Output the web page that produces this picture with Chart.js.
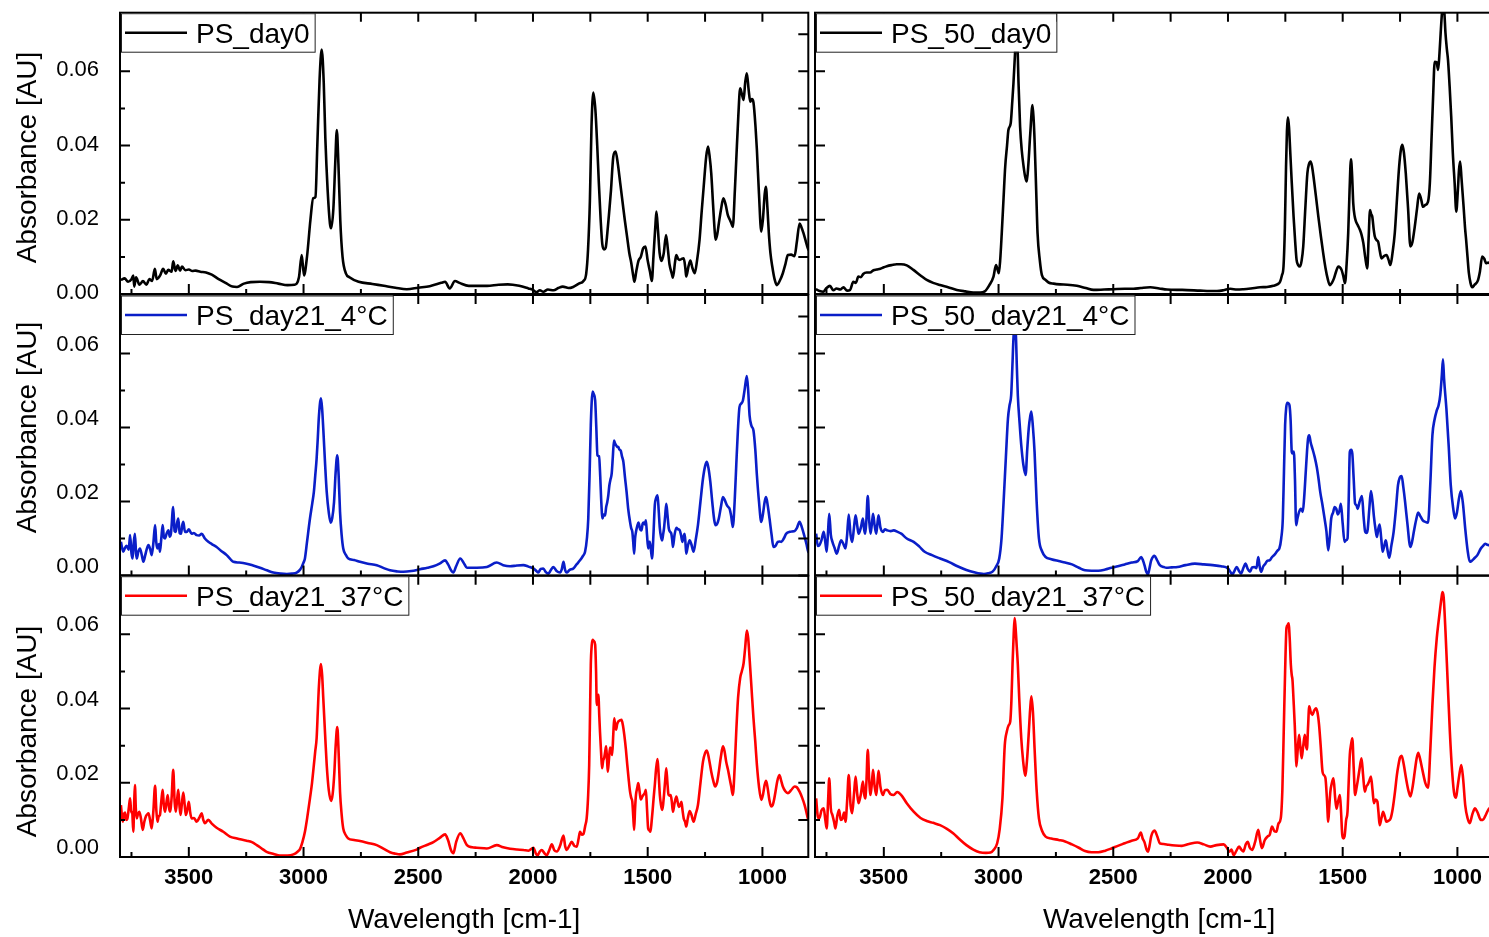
<!DOCTYPE html>
<html><head><meta charset="utf-8">
<script src="https://cdn.jsdelivr.net/npm/chart.js@4.4.1/dist/chart.umd.min.js"></script>
<style>
html,body{margin:0;padding:0;background:#fff;overflow:hidden;}
#wrap{position:relative;width:1489px;height:937px;overflow:hidden;background:#fff;}
#wrap canvas{position:absolute;left:0;top:-40px;}
</style></head><body>
<div id="wrap">
<canvas id="c0" width="1560" height="977"></canvas>
<canvas id="c1" width="1560" height="977"></canvas>
<canvas id="c2" width="1560" height="977"></canvas>
<canvas id="c3" width="1560" height="977"></canvas>
<canvas id="c4" width="1560" height="977"></canvas>
<canvas id="c5" width="1560" height="977"></canvas>
</div>
<script>
// ---- tick labels ----
const xTickLabels = [3500, 3000, 2500, 2000, 1500, 1000];
const yTickLabels = [0, 0.02, 0.04, 0.06];
const xMinorTicks = [3750, 3250, 2750, 2250, 1750, 1250];
const yMinorTicks = [0.01, 0.03, 0.05, 0.07];

// ---- series: [wavenumber, absorbance] ----
const psDay0 = [[3796,.0038],[3780,.0042],[3765,.0033],[3750,.0040],[3742,.0050],[3738,.0020],[3730,.0045],[3715,.0025],[3700,.0035],[3685,.0025],[3672,.0040],[3660,.0035],[3648,.0068],[3640,.0040],[3625,.0050],[3612,.0068],[3600,.0055],[3590,.0065],[3575,.0060],[3568,.0088],[3558,.0062],[3548,.0077],[3538,.0063],[3530,.0074],[3515,.0064],[3500,.0066],[3485,.0062],[3470,.0063],[3450,.0060],[3425,.0058],[3400,.0052],[3370,.0040],[3340,.0030],[3310,.0020],[3290,.0019],[3260,.0028],[3230,.0032],[3190,.0033],[3150,.0032],[3110,.0028],[3070,.0024],[3040,.0025],[3020,.0045],[3008,.0105],[2998,.0050],[2985,.0100],[2970,.0200],[2958,.0258],[2948,.0262],[2940,.0400],[2930,.0580],[2921,.0659],[2912,.0570],[2905,.0420],[2895,.0280],[2885,.0190],[2880,.0177],[2870,.0230],[2862,.0350],[2855,.0442],[2848,.0350],[2840,.0200],[2830,.0100],[2815,.0055],[2800,.0045],[2760,.0033],[2700,.0027],[2650,.0022],[2600,.0017],[2550,.0013],[2500,.0017],[2450,.0021],[2400,.0030],[2383,.0033],[2363,.0015],[2340,.0035],[2320,.0030],[2280,.0022],[2200,.0022],[2150,.0025],[2110,.0026],[2060,.0022],[2020,.0015],[2000,.0011],[1985,.0005],[1970,.0010],[1955,.0006],[1935,.0012],[1910,.0010],[1890,.0016],[1870,.0020],[1845,.0016],[1825,.0019],[1800,.0028],[1780,.0035],[1768,.0055],[1760,.0120],[1752,.0250],[1745,.0450],[1737,.0543],[1728,.0496],[1720,.0400],[1713,.0300],[1705,.0200],[1698,.0135],[1690,.0120],[1683,.0125],[1676,.0164],[1668,.0220],[1660,.0280],[1650,.0370],[1640,.0384],[1630,.0350],[1620,.0300],[1610,.0250],[1600,.0200],[1590,.0155],[1580,.0110],[1572,.0085],[1562,.0045],[1558,.0033],[1550,.0060],[1540,.0090],[1530,.0100],[1520,.0123],[1510,.0128],[1500,.0090],[1490,.0060],[1482,.0035],[1475,.0100],[1466,.0190],[1462,.0222],[1455,.0170],[1448,.0110],[1440,.0089],[1430,.0110],[1420,.0159],[1412,.0120],[1405,.0080],[1395,.0055],[1390,.0044],[1380,.0090],[1375,.0105],[1368,.0095],[1360,.0092],[1350,.0095],[1343,.0096],[1336,.0070],[1332,.0047],[1322,.0075],[1314,.0090],[1305,.0070],[1295,.0056],[1285,.0090],[1274,.0146],[1265,.0220],[1256,.0289],[1245,.0370],[1237,.0397],[1230,.0370],[1223,.0325],[1215,.0240],[1208,.0170],[1204,.0146],[1197,.0160],[1190,.0190],[1180,.0230],[1170,.0258],[1160,.0240],[1151,.0213],[1142,.0200],[1135,.0190],[1129,.0181],[1120,.0280],[1114,.0361],[1105,.0480],[1097,.0554],[1090,.0540],[1082,.0523],[1075,.0570],[1068,.0595],[1060,.0550],[1053,.0518],[1046,.0525],[1039,.0516],[1030,.0450],[1024,.0388],[1015,.0270],[1005,.0168],[998,.0200],[990,.0270],[985,.0289],[978,.0230],[972,.0164],[965,.0110],[957,.0074],[947,.0040],[937,.0024],[925,.0035],[911,.0056],[900,.0080],[889,.0105],[875,.0106],[860,.0102],[850,.0140],[838,.0190],[830,.0180],[821,.0164],[810,.0140],[802,.0123],[798,.0118]];

const ps50Day0 = [[3796,.0013],[3780,.0008],[3764,.0006],[3750,.0016],[3735,.0022],[3720,.0010],[3706,.0015],[3690,.0012],[3676,.0018],[3660,.0009],[3647,.0011],[3633,.0033],[3622,.0030],[3611,.0047],[3600,.0045],[3590,.0054],[3575,.0058],[3560,.0058],[3545,.0064],[3531,.0066],[3515,.0068],[3500,.0072],[3487,.0075],[3465,.0078],[3444,.0080],[3425,.0080],[3400,.0077],[3371,.0065],[3340,.0050],[3313,.0038],[3285,.0030],[3255,.0024],[3220,.0018],[3182,.0011],[3145,.0007],[3110,.0004],[3080,.0004],[3060,.0007],[3040,.0024],[3022,.0047],[3011,.0078],[3004,.0065],[2999,.0056],[2993,.0090],[2986,.0164],[2978,.0260],[2971,.0343],[2963,.0400],[2957,.0442],[2947,.0460],[2940,.0520],[2935,.0568],[2928,.0650],[2923,.0700],[2917,.0660],[2913,.0570],[2906,.0450],[2899,.0388],[2890,.0340],[2884,.0316],[2877,.0303],[2870,.0350],[2862,.0430],[2852,.0509],[2847,.0470],[2843,.0415],[2836,.0280],[2830,.0164],[2820,.0090],[2811,.0051],[2795,.0038],[2782,.0031],[2760,.0028],[2732,.0026],[2700,.0025],[2659,.0022],[2620,.0016],[2586,.0011],[2540,.0012],[2499,.0013],[2450,.0014],[2412,.0014],[2380,.0016],[2339,.0018],[2300,.0015],[2266,.0012],[2200,.0011],[2121,.0009],[2080,.0008],[2048,.0008],[2020,.0010],[1990,.0014],[1960,.0012],[1932,.0013],[1900,.0015],[1860,.0018],[1830,.0019],[1802,.0022],[1785,.0026],[1773,.0033],[1765,.0050],[1758,.0074],[1752,.0180],[1747,.0343],[1743,.0440],[1739,.0476],[1734,.0450],[1729,.0388],[1722,.0300],[1714,.0208],[1707,.0140],[1701,.0092],[1694,.0078],[1686,.0074],[1679,.0090],[1672,.0128],[1663,.0230],[1654,.0325],[1647,.0350],[1640,.0357],[1634,.0345],[1628,.0320],[1617,.0265],[1606,.0208],[1595,.0155],[1585,.0110],[1575,.0070],[1565,.0040],[1556,.0024],[1547,.0030],[1538,.0042],[1528,.0062],[1519,.0074],[1512,.0072],[1505,.0065],[1498,.0050],[1490,.0029],[1483,.0080],[1476,.0164],[1470,.0280],[1464,.0363],[1459,.0320],[1454,.0244],[1448,.0210],[1442,.0195],[1434,.0185],[1425,.0173],[1418,.0160],[1410,.0137],[1402,.0100],[1393,.0069],[1387,.0150],[1381,.0226],[1376,.0215],[1371,.0208],[1365,.0175],[1360,.0155],[1352,.0145],[1345,.0140],[1338,.0115],[1331,.0096],[1320,.0102],[1309,.0105],[1300,.0092],[1292,.0078],[1283,.0110],[1273,.0164],[1263,.0260],[1254,.0343],[1246,.0390],[1240,.0402],[1233,.0380],[1225,.0325],[1215,.0230],[1205,.0128],[1196,.0140],[1186,.0181],[1176,.0230],[1167,.0271],[1158,.0255],[1150,.0235],[1140,.0240],[1128,.0249],[1120,.0300],[1113,.0415],[1106,.0530],[1099,.0626],[1091,.0625],[1084,.0604],[1078,.0650],[1073,.0703],[1067,.0760],[1062,.0790],[1057,.0760],[1052,.0703],[1046,.0660],[1041,.0631],[1034,.0560],[1027,.0478],[1020,.0380],[1012,.0298],[1005,.0222],[998,.0280],[993,.0335],[988,.0357],[982,.0310],[973,.0235],[967,.0180],[962,.0146],[956,.0100],[950,.0056],[943,.0030],[936,.0018],[925,.0025],[911,.0036],[902,.0060],[892,.0101],[883,.0095],[875,.0083],[865,.0085],[855,.0080]];

const psDay21_4C = [[3796,.0091],[3786,.0064],[3778,.0075],[3771,.0080],[3762,.0070],[3756,.0109],[3750,.0060],[3745,.0046],[3740,.0090],[3735,.0113],[3730,.0060],[3727,.0046],[3720,.0065],[3713,.0073],[3705,.0055],[3698,.0037],[3690,.0055],[3684,.0070],[3676,.0082],[3668,.0070],[3662,.0055],[3655,.0085],[3647,.0136],[3642,.0090],[3637,.0073],[3630,.0085],[3626,.0064],[3620,.0100],[3614,.0136],[3609,.0105],[3604,.0100],[3596,.0115],[3589,.0122],[3583,.0105],[3578,.0113],[3568,.0185],[3562,.0120],[3557,.0118],[3552,.0140],[3546,.0154],[3540,.0115],[3534,.0113],[3529,.0135],[3524,.0145],[3517,.0118],[3509,.0118],[3500,.0125],[3488,.0113],[3478,.0115],[3466,.0109],[3455,.0108],[3444,.0113],[3430,.0100],[3415,.0091],[3400,.0085],[3379,.0077],[3360,.0067],[3335,.0055],[3320,.0045],[3306,.0037],[3280,.0035],[3248,.0032],[3220,.0027],[3190,.0021],[3160,.0014],[3132,.0008],[3100,.0005],[3073,.0004],[3050,.0005],[3030,.0008],[3015,.0016],[3008,.0023],[3000,.0035],[2994,.0046],[2985,.0090],[2972,.0154],[2962,.0195],[2955,.0226],[2949,.0270],[2943,.0316],[2938,.0370],[2933,.0430],[2924,.0479],[2919,.0450],[2914,.0397],[2906,.0300],[2899,.0226],[2890,.0170],[2882,.0143],[2875,.0155],[2867,.0199],[2860,.0280],[2853,.0325],[2847,.0270],[2841,.0172],[2834,.0110],[2827,.0073],[2815,.0055],[2805,.0046],[2780,.0042],[2754,.0037],[2720,.0032],[2681,.0028],[2650,.0020],[2623,.0014],[2590,.0011],[2565,.0010],[2530,.0012],[2492,.0017],[2460,.0021],[2434,.0025],[2405,.0033],[2383,.0041],[2370,.0030],[2355,.0012],[2347,.0008],[2335,.0025],[2317,.0046],[2300,.0032],[2288,.0021],[2245,.0021],[2201,.0023],[2158,.0035],[2130,.0028],[2100,.0025],[2070,.0027],[2042,.0028],[2020,.0024],[1998,.0019],[1985,.0012],[1977,.0008],[1966,.0018],[1955,.0019],[1945,.0010],[1933,.0005],[1922,.0015],[1911,.0023],[1897,.0012],[1882,.0008],[1874,.0018],[1867,.0037],[1860,.0015],[1853,.0008],[1840,.0015],[1824,.0019],[1810,.0030],[1795,.0041],[1783,.0052],[1773,.0064],[1765,.0100],[1759,.0154],[1753,.0280],[1748,.0406],[1744,.0470],[1740,.0497],[1735,.0490],[1729,.0473],[1724,.0400],[1719,.0325],[1712,.0322],[1707,.0270],[1703,.0208],[1697,.0154],[1692,.0165],[1686,.0162],[1681,.0185],[1676,.0199],[1672,.0215],[1667,.0244],[1662,.0260],[1657,.0275],[1652,.0320],[1647,.0365],[1643,.0358],[1638,.0352],[1633,.0348],[1628,.0347],[1623,.0340],[1618,.0338],[1612,.0322],[1606,.0307],[1599,.0265],[1592,.0226],[1585,.0180],[1577,.0145],[1572,.0128],[1567,.0118],[1563,.0090],[1559,.0059],[1555,.0100],[1551,.0118],[1545,.0135],[1540,.0143],[1533,.0125],[1527,.0122],[1522,.0140],[1517,.0143],[1512,.0138],[1508,.0149],[1503,.0110],[1498,.0073],[1494,.0090],[1491,.0091],[1486,.0070],[1481,.0046],[1475,.0110],[1469,.0190],[1463,.0210],[1457,.0217],[1452,.0175],[1447,.0127],[1442,.0105],[1437,.0095],[1433,.0110],[1429,.0127],[1424,.0160],[1419,.0194],[1414,.0165],[1408,.0127],[1402,.0118],[1397,.0113],[1393,.0095],[1390,.0077],[1383,.0110],[1375,.0129],[1368,.0125],[1361,.0123],[1355,.0110],[1349,.0091],[1344,.0105],[1339,.0113],[1335,.0085],[1332,.0059],[1325,.0080],[1317,.0095],[1310,.0085],[1300,.0064],[1291,.0095],[1281,.0136],[1270,.0200],[1259,.0262],[1250,.0295],[1242,.0307],[1235,.0290],[1227,.0253],[1218,.0195],[1210,.0150],[1204,.0136],[1197,.0140],[1190,.0154],[1181,.0185],[1172,.0212],[1165,.0205],[1155,.0190],[1149,.0185],[1143,.0180],[1136,.0160],[1129,.0131],[1121,.0200],[1114,.0298],[1107,.0390],[1100,.0455],[1092,.0465],[1085,.0473],[1078,.0500],[1068,.0539],[1062,.0500],[1056,.0433],[1048,.0405],[1039,.0392],[1031,.0340],[1024,.0271],[1015,.0200],[1005,.0145],[998,.0165],[990,.0200],[984,.0212],[977,.0190],[969,.0154],[960,.0110],[952,.0077],[943,.0080],[933,.0091],[925,.0092],[918,.0091],[907,.0100],[896,.0113],[880,.0118],[870,.0119],[860,.0120],[850,.0128],[838,.0145],[828,.0130],[816,.0104],[808,.0085],[802,.0068],[798,.0062]];

const ps50Day21_4C = [[3795,.0113],[3788,.0080],[3781,.0082],[3772,.0095],[3762,.0118],[3755,.0090],[3749,.0064],[3743,.0120],[3738,.0167],[3731,.0110],[3724,.0091],[3715,.0075],[3705,.0059],[3695,.0080],[3686,.0095],[3676,.0085],[3667,.0073],[3660,.0110],[3653,.0165],[3645,.0110],[3638,.0091],[3630,.0130],[3623,.0163],[3616,.0135],[3610,.0113],[3600,.0130],[3591,.0154],[3586,.0125],[3581,.0113],[3576,.0150],[3570,.0215],[3564,.0150],[3558,.0113],[3552,.0140],[3547,.0167],[3540,.0135],[3533,.0113],[3528,.0140],[3523,.0163],[3515,.0130],[3504,.0118],[3495,.0125],[3485,.0122],[3470,.0120],[3457,.0122],[3440,.0118],[3424,.0113],[3400,.0100],[3370,.0091],[3345,.0078],[3322,.0064],[3290,.0055],[3255,.0046],[3215,.0036],[3179,.0025],[3140,.0015],[3102,.0008],[3080,.0005],[3064,.0004],[3045,.0006],[3025,.0011],[3010,.0025],[2997,.0046],[2987,.0100],[2978,.0199],[2968,.0320],[2959,.0424],[2952,.0460],[2945,.0487],[2940,.0560],[2935,.0640],[2930,.0680],[2925,.0660],[2920,.0560],[2916,.0487],[2908,.0410],[2901,.0352],[2892,.0300],[2882,.0272],[2875,.0340],[2868,.0400],[2862,.0430],[2857,.0443],[2850,.0400],[2843,.0334],[2834,.0200],[2824,.0100],[2810,.0065],[2795,.0050],[2770,.0044],[2738,.0039],[2710,.0035],[2680,.0030],[2650,.0021],[2623,.0014],[2595,.0013],[2565,.0013],[2535,.0016],[2508,.0021],[2480,.0025],[2450,.0030],[2420,.0035],[2393,.0039],[2378,.0050],[2370,.0040],[2364,.0028],[2356,.0010],[2349,.0003],[2342,.0020],[2335,.0040],[2320,.0053],[2308,.0040],[2297,.0028],[2280,.0023],[2268,.0021],[2245,.0022],[2220,.0023],[2185,.0028],[2144,.0032],[2105,.0030],[2067,.0028],[2030,.0025],[2000,.0019],[1990,.0010],[1981,.0003],[1972,.0012],[1962,.0023],[1952,.0012],[1943,.0005],[1933,.0020],[1924,.0032],[1914,.0018],[1904,.0010],[1895,.0022],[1885,.0023],[1876,.0020],[1868,.0050],[1862,.0025],[1856,.0010],[1846,.0025],[1837,.0032],[1828,.0040],[1818,.0041],[1808,.0050],[1799,.0055],[1790,.0062],[1783,.0068],[1776,.0073],[1768,.0100],[1761,.0154],[1756,.0280],[1751,.0406],[1746,.0455],[1741,.0467],[1736,.0465],[1732,.0460],[1727,.0420],[1722,.0334],[1718,.0330],[1713,.0335],[1708,.0260],[1703,.0136],[1697,.0155],[1690,.0172],[1682,.0180],[1674,.0172],[1668,.0210],[1661,.0280],[1655,.0340],[1651,.0370],[1646,.0379],[1639,.0358],[1632,.0343],[1622,.0320],[1613,.0293],[1605,.0260],[1598,.0226],[1588,.0190],[1579,.0154],[1571,.0120],[1563,.0068],[1557,.0100],[1550,.0154],[1542,.0170],[1535,.0185],[1528,.0180],[1521,.0165],[1514,.0175],[1508,.0194],[1500,.0140],[1492,.0091],[1486,.0095],[1479,.0100],[1474,.0200],[1469,.0334],[1463,.0340],[1458,.0329],[1452,.0260],[1446,.0194],[1440,.0190],[1435,.0180],[1426,.0200],[1416,.0215],[1409,.0160],[1402,.0118],[1396,.0115],[1391,.0125],[1384,.0180],[1377,.0228],[1370,.0200],[1364,.0160],[1357,.0125],[1351,.0104],[1345,.0125],[1339,.0138],[1332,.0100],[1326,.0064],[1319,.0080],[1312,.0095],[1305,.0070],[1297,.0048],[1288,.0080],[1278,.0118],[1268,.0180],[1259,.0244],[1251,.0265],[1243,.0269],[1236,.0240],[1228,.0199],[1218,.0140],[1205,.0077],[1198,.0090],[1190,.0118],[1180,.0150],[1171,.0170],[1163,.0162],[1151,.0149],[1140,.0145],[1128,.0143],[1118,.0250],[1109,.0379],[1100,.0420],[1090,.0446],[1082,.0460],[1075,.0487],[1068,.0540],[1063,.0584],[1058,.0530],[1048,.0451],[1038,.0350],[1029,.0244],[1018,.0180],[1010,.0154],[1002,.0170],[994,.0205],[985,.0228],[976,.0195],[966,.0127],[956,.0070],[946,.0037],[937,.0040],[927,.0046],[913,.0055],[898,.0073],[888,.0080],[879,.0086],[870,.0083],[864,.0082],[855,.0082]];

const psDay21_37C = [[3796,.0140],[3788,.0095],[3783,.0115],[3778,.0120],[3773,.0100],[3768,.0103],[3761,.0135],[3756,.0158],[3751,.0120],[3747,.0122],[3742,.0068],[3738,.0150],[3735,.0194],[3731,.0130],[3727,.0104],[3722,.0115],[3716,.0122],[3709,.0105],[3701,.0073],[3694,.0095],[3687,.0110],[3681,.0115],[3676,.0118],[3669,.0100],[3662,.0077],[3655,.0120],[3647,.0192],[3642,.0130],[3637,.0095],[3631,.0110],[3626,.0113],[3620,.0150],[3614,.0181],[3609,.0140],[3604,.0122],[3598,.0145],[3592,.0167],[3587,.0135],[3582,.0122],[3575,.0160],[3568,.0235],[3562,.0150],[3557,.0122],[3551,.0155],[3546,.0181],[3541,.0140],[3536,.0113],[3530,.0145],[3524,.0174],[3518,.0140],[3513,.0113],[3506,.0130],[3500,.0149],[3494,.0120],[3488,.0104],[3477,.0105],[3466,.0095],[3455,.0105],[3444,.0118],[3437,.0100],[3430,.0091],[3415,.0100],[3400,.0090],[3379,.0079],[3350,.0068],[3321,.0055],[3290,.0050],[3248,.0044],[3225,.0040],[3204,.0032],[3180,.0022],[3161,.0014],[3130,.0008],[3103,.0004],[3070,.0004],[3044,.0007],[3025,.0015],[3015,.0022],[3005,.0040],[2994,.0068],[2983,.0110],[2972,.0158],[2963,.0200],[2955,.0248],[2949,.0285],[2943,.0320],[2938,.0390],[2933,.0460],[2924,.0520],[2919,.0490],[2914,.0428],[2906,.0330],[2899,.0248],[2890,.0180],[2880,.0151],[2873,.0170],[2866,.0225],[2860,.0300],[2853,.0350],[2847,.0280],[2841,.0176],[2834,.0115],[2827,.0077],[2815,.0058],[2805,.0050],[2780,.0046],[2754,.0043],[2720,.0038],[2681,.0032],[2650,.0022],[2623,.0013],[2600,.0009],[2580,.0007],[2550,.0012],[2507,.0020],[2492,.0025],[2460,.0033],[2434,.0040],[2405,.0052],[2383,.0061],[2370,.0045],[2357,.0018],[2347,.0010],[2335,.0040],[2317,.0064],[2303,.0050],[2288,.0032],[2265,.0026],[2245,.0025],[2201,.0023],[2158,.0032],[2130,.0026],[2100,.0022],[2070,.0020],[2042,.0019],[2020,.0017],[1998,.0025],[1988,.0010],[1980,.0004],[1970,.0015],[1962,.0019],[1950,.0010],[1940,.0005],[1928,.0020],[1918,.0034],[1907,.0018],[1896,.0015],[1882,.0030],[1867,.0058],[1860,.0030],[1853,.0019],[1842,.0030],[1831,.0041],[1820,.0030],[1809,.0028],[1801,.0050],[1795,.0068],[1787,.0060],[1780,.0062],[1772,.0085],[1766,.0104],[1760,.0160],[1755,.0248],[1751,.0400],[1748,.0518],[1744,.0570],[1740,.0585],[1735,.0582],[1729,.0572],[1725,.0500],[1722,.0410],[1718,.0430],[1715,.0437],[1711,.0380],[1708,.0338],[1703,.0280],[1699,.0239],[1694,.0260],[1690,.0266],[1685,.0285],[1681,.0298],[1677,.0260],[1674,.0230],[1669,.0262],[1664,.0295],[1659,.0290],[1655,.0275],[1650,.0330],[1646,.0374],[1642,.0355],[1638,.0343],[1633,.0358],[1628,.0365],[1621,.0368],[1614,.0370],[1608,.0355],[1602,.0329],[1595,.0290],[1589,.0248],[1583,.0210],[1577,.0176],[1572,.0160],[1567,.0149],[1563,.0110],[1559,.0073],[1555,.0130],[1551,.0168],[1546,.0185],[1541,.0199],[1535,.0175],[1530,.0155],[1524,.0162],[1519,.0167],[1513,.0172],[1508,.0181],[1503,.0130],[1498,.0077],[1493,.0072],[1488,.0068],[1483,.0095],[1479,.0122],[1474,.0160],[1469,.0194],[1463,.0240],[1457,.0264],[1452,.0220],[1447,.0167],[1442,.0140],[1437,.0127],[1433,.0140],[1429,.0167],[1424,.0205],[1419,.0239],[1414,.0200],[1410,.0170],[1405,.0165],[1400,.0167],[1395,.0150],[1390,.0122],[1383,.0145],[1375,.0163],[1370,.0150],[1364,.0135],[1358,.0140],[1353,.0149],[1348,.0125],[1343,.0104],[1337,.0095],[1332,.0082],[1325,.0105],[1317,.0124],[1310,.0115],[1300,.0095],[1291,.0115],[1281,.0140],[1270,.0200],[1259,.0257],[1250,.0280],[1242,.0287],[1233,.0265],[1223,.0230],[1214,.0205],[1206,.0190],[1198,.0200],[1190,.0230],[1181,.0270],[1172,.0298],[1165,.0285],[1158,.0257],[1150,.0235],[1143,.0212],[1136,.0190],[1129,.0167],[1121,.0240],[1114,.0338],[1106,.0430],[1097,.0482],[1090,.0500],[1082,.0522],[1075,.0565],[1068,.0610],[1062,.0590],[1056,.0536],[1048,.0460],[1039,.0374],[1031,.0310],[1024,.0248],[1015,.0190],[1005,.0154],[997,.0170],[990,.0195],[984,.0205],[977,.0185],[970,.0155],[962,.0136],[955,.0140],[949,.0155],[943,.0176],[935,.0205],[926,.0221],[918,.0205],[911,.0190],[900,.0177],[889,.0172],[875,.0180],[860,.0190],[850,.0188],[838,.0176],[827,.0160],[816,.0140],[808,.0120],[802,.0104],[798,.0098]];

const ps50Day21_37C = [[3795,.0158],[3788,.0110],[3781,.0104],[3772,.0125],[3762,.0131],[3755,.0100],[3749,.0077],[3743,.0150],[3738,.0212],[3731,.0130],[3724,.0113],[3717,.0095],[3711,.0077],[3703,.0110],[3695,.0127],[3688,.0100],[3680,.0104],[3673,.0120],[3667,.0095],[3660,.0150],[3653,.0221],[3645,.0140],[3638,.0118],[3630,.0170],[3623,.0217],[3616,.0170],[3610,.0145],[3600,.0170],[3591,.0203],[3586,.0170],[3581,.0158],[3576,.0200],[3570,.0289],[3564,.0210],[3558,.0167],[3552,.0200],[3547,.0235],[3540,.0190],[3533,.0167],[3528,.0200],[3523,.0232],[3515,.0190],[3504,.0167],[3495,.0180],[3485,.0181],[3472,.0170],[3457,.0167],[3442,.0175],[3424,.0167],[3400,.0145],[3370,.0122],[3340,.0105],[3313,.0097],[3285,.0092],[3255,.0086],[3225,.0076],[3198,.0064],[3170,.0048],[3140,.0032],[3110,.0020],[3083,.0013],[3055,.0011],[3035,.0012],[3020,.0020],[3006,.0037],[2995,.0075],[2983,.0158],[2973,.0300],[2964,.0338],[2956,.0355],[2949,.0365],[2944,.0420],[2939,.0520],[2934,.0600],[2930,.0644],[2926,.0620],[2921,.0570],[2916,.0518],[2910,.0430],[2901,.0320],[2893,.0260],[2884,.0219],[2876,.0260],[2868,.0338],[2862,.0400],[2857,.0433],[2850,.0390],[2843,.0293],[2834,.0180],[2824,.0104],[2810,.0070],[2795,.0055],[2770,.0050],[2738,.0046],[2710,.0042],[2680,.0034],[2650,.0025],[2623,.0016],[2595,.0013],[2565,.0013],[2535,.0017],[2508,.0023],[2480,.0030],[2450,.0037],[2420,.0044],[2393,.0050],[2380,.0066],[2372,.0050],[2364,.0040],[2355,.0020],[2349,.0014],[2342,.0030],[2335,.0055],[2320,.0071],[2308,.0055],[2297,.0037],[2280,.0035],[2259,.0033],[2230,.0031],[2201,.0030],[2170,.0035],[2134,.0039],[2105,.0034],[2077,.0028],[2050,.0032],[2019,.0034],[2005,.0025],[1994,.0014],[1985,.0020],[1975,.0005],[1965,.0015],[1952,.0028],[1942,.0020],[1933,.0015],[1922,.0035],[1914,.0041],[1905,.0025],[1895,.0019],[1882,.0040],[1868,.0073],[1860,.0045],[1852,.0024],[1840,.0045],[1828,.0055],[1818,.0060],[1808,.0082],[1798,.0070],[1789,.0068],[1780,.0090],[1770,.0104],[1763,.0180],[1757,.0338],[1751,.0500],[1745,.0617],[1740,.0625],[1736,.0630],[1731,.0590],[1726,.0518],[1722,.0490],[1719,.0478],[1714,.0420],[1709,.0356],[1705,.0290],[1702,.0244],[1696,.0290],[1690,.0329],[1685,.0300],[1679,.0266],[1672,.0300],[1665,.0329],[1660,.0300],[1656,.0290],[1651,.0350],[1646,.0406],[1639,.0390],[1632,.0383],[1624,.0395],[1617,.0401],[1610,.0390],[1603,.0356],[1596,.0300],[1588,.0230],[1581,.0220],[1575,.0212],[1569,.0160],[1563,.0095],[1558,.0140],[1554,.0175],[1547,.0200],[1540,.0212],[1533,.0160],[1527,.0130],[1520,.0150],[1512,.0167],[1507,.0120],[1502,.0060],[1497,.0050],[1492,.0055],[1485,.0100],[1479,.0122],[1474,.0200],[1469,.0275],[1463,.0305],[1458,.0320],[1452,.0240],[1446,.0167],[1440,.0185],[1435,.0203],[1427,.0235],[1418,.0266],[1411,.0220],[1404,.0176],[1397,.0190],[1391,.0195],[1384,.0205],[1377,.0217],[1370,.0180],[1364,.0145],[1357,.0155],[1349,.0150],[1344,.0120],[1339,.0086],[1331,.0105],[1324,.0122],[1317,.0110],[1310,.0095],[1300,.0098],[1291,.0104],[1282,.0130],[1272,.0176],[1264,.0220],[1257,.0248],[1250,.0268],[1243,.0273],[1234,.0250],[1224,.0212],[1214,.0180],[1205,.0163],[1195,.0190],[1186,.0230],[1178,.0265],[1171,.0281],[1163,.0265],[1151,.0230],[1140,.0200],[1128,.0187],[1118,.0290],[1109,.0410],[1100,.0510],[1090,.0590],[1082,.0635],[1075,.0671],[1069,.0700],[1065,.0714],[1060,.0700],[1052,.0608],[1043,.0480],[1033,.0338],[1023,.0230],[1013,.0167],[1006,.0160],[1000,.0185],[992,.0220],[983,.0248],[975,.0210],[966,.0140],[956,.0105],[946,.0091],[935,.0115],[923,.0131],[912,.0120],[898,.0100],[889,.0100],[879,.0110],[870,.0122],[864,.0129],[855,.0135]];

// ---- styling / layout ----
const FONT = "'Liberation Sans', Arial, Helvetica, sans-serif";
const OFF = 40;               // canvases are shifted up by this many px
const CW = 1560, CH = 937 + OFF;
const BLACK = '#000000', BLUE = '#0a1ec8', RED = '#ff0000';
const LEFT_COL = {left: 120, right: 808.3};
const RIGHT_COL = {left: 815, right: 1503.3};
const ROWS = [
  {top: 12.7, bottom: 294, labelOffset: -1, titleY: 157.5},
  {top: 295, bottom: 575.5, labelOffset: -9, titleY: 427.5},
  {top: 575.7, bottom: 857, labelOffset: -9, titleY: 731.5}
];
const panels = [
  {id: 'c0', series: psDay0, label: 'PS_day0', color: BLACK, col: LEFT_COL, row: 0, yAxis: true},
  {id: 'c1', series: ps50Day0, label: 'PS_50_day0', color: BLACK, col: RIGHT_COL, row: 0, yAxis: false},
  {id: 'c2', series: psDay21_4C, label: 'PS_day21_4°C', color: BLUE, col: LEFT_COL, row: 1, yAxis: true},
  {id: 'c3', series: ps50Day21_4C, label: 'PS_50_day21_4°C', color: BLUE, col: RIGHT_COL, row: 1, yAxis: false},
  {id: 'c4', series: psDay21_37C, label: 'PS_day21_37°C', color: RED, col: LEFT_COL, row: 2, yAxis: true},
  {id: 'c5', series: ps50Day21_37C, label: 'PS_50_day21_37°C', color: RED, col: RIGHT_COL, row: 2, yAxis: false}
];

const decorPlugin = {
  id: 'decor',
  afterDraw(chart) {
    const o = chart.options.plugins.decor;
    const {ctx, chartArea: a} = chart;
    const xs = chart.scales.x, ys = chart.scales.y;
    ctx.save();
    ctx.strokeStyle = '#000';
    ctx.lineWidth = 2;
    ctx.beginPath();
    xTickLabels.forEach(v => {
      const px = xs.getPixelForValue(v);
      ctx.moveTo(px, a.bottom); ctx.lineTo(px, a.bottom - 10);
      ctx.moveTo(px, a.top); ctx.lineTo(px, a.top + 9);
    });
    xMinorTicks.forEach(v => {
      const px = xs.getPixelForValue(v);
      ctx.moveTo(px, a.bottom); ctx.lineTo(px, a.bottom - 5);
      ctx.moveTo(px, a.top); ctx.lineTo(px, a.top + 9);
    });
    yTickLabels.forEach(v => {
      const py = ys.getPixelForValue(v);
      ctx.moveTo(a.left, py); ctx.lineTo(a.left + 10, py);
      ctx.moveTo(a.right, py); ctx.lineTo(a.right - 10, py);
    });
    yMinorTicks.forEach(v => {
      const py = ys.getPixelForValue(v);
      ctx.moveTo(a.left, py); ctx.lineTo(a.left + 5, py);
      ctx.moveTo(a.right, py); ctx.lineTo(a.right - 10, py);
    });
    ctx.stroke();
    ctx.lineWidth = 2;
    ctx.strokeRect(a.left, a.top, a.right - a.left, a.bottom - a.top);

    // legend box
    ctx.font = '28px ' + FONT;
    const tw = ctx.measureText(o.label).width;
    const bx = a.left + 1, by = a.top + 0.5, bh = 38.5;
    const bw = 76 + tw + 4;
    ctx.fillStyle = '#fff';
    ctx.fillRect(bx, by, bw, bh);
    ctx.lineWidth = 1;
    ctx.strokeStyle = '#222';
    ctx.strokeRect(bx + 0.5, by + 0.5, bw, bh);
    ctx.strokeStyle = o.color;
    ctx.lineWidth = 2.4;
    ctx.beginPath();
    ctx.moveTo(bx + 4, by + 19.5); ctx.lineTo(bx + 66, by + 19.5);
    ctx.stroke();
    ctx.fillStyle = '#000';
    ctx.textBaseline = 'alphabetic';
    ctx.textAlign = 'left';
    ctx.fillText(o.label, bx + 75, by + 29.5);

    // y-axis title
    if (o.yTitle) {
      ctx.save();
      ctx.translate(28, o.titleY + OFF);
      ctx.rotate(-Math.PI / 2);
      ctx.textAlign = 'center';
      ctx.textBaseline = 'middle';
      ctx.font = '28px ' + FONT;
      ctx.fillText('Absorbance [AU]', 0, 0);
      ctx.restore();
    }
    ctx.restore();
  }
};

panels.forEach(p => {
  const row = ROWS[p.row];
  const bottomRow = p.row === 2;
  const cfg = {
    type: 'line',
    data: {
      datasets: [{
        label: p.label,
        data: p.series.map(([w, a]) => ({x: w, y: a})),
        borderColor: p.color,
        backgroundColor: p.color,
        borderWidth: 2.6,
        pointRadius: 0,
        fill: false,
        cubicInterpolationMode: 'monotone',
        clip: 0
      }]
    },
    options: {
      responsive: false,
      animation: false,
      events: [],
      layout: {
        padding: {
          left: p.yAxis ? 0 : p.col.left,
          right: CW - p.col.right,
          top: row.top + OFF,
          bottom: bottomRow ? 0 : CH - OFF - row.bottom
        }
      },
      plugins: {
        legend: {display: false},
        tooltip: {enabled: false},
        decor: {label: p.label, color: p.color, yTitle: p.yAxis, titleY: row.titleY}
      },
      scales: {
        x: {
          type: 'linear',
          reverse: true,
          min: 800,
          max: 3800,
          display: bottomRow,
          grid: {display: false, drawTicks: false},
          border: {display: false},
          afterBuildTicks: s => { s.ticks = xTickLabels.map(v => ({value: v})); },
          afterFit: s => { s.height = bottomRow ? 937 - row.bottom : 0; },
          ticks: {
            autoSkip: false,
            maxRotation: 0,
            padding: 8,
            color: '#000',
            font: {family: FONT, size: 22, weight: 'bold'},
            callback: v => String(v)
          },
          title: {
            display: true,
            text: 'Wavelength [cm-1]',
            color: '#000',
            font: {family: FONT, size: 28},
            padding: {top: 0, bottom: 0}
          }
        },
        y: {
          type: 'linear',
          min: 0,
          max: 0.0758,
          display: p.yAxis,
          grid: {display: false, drawTicks: false},
          border: {display: false},
          afterBuildTicks: s => { s.ticks = yTickLabels.map(v => ({value: v})); },
          afterFit: s => { s.width = p.yAxis ? p.col.left : 0; },
          ticks: {
            padding: 21,
            labelOffset: row.labelOffset,
            color: '#000',
            font: {family: FONT, size: 22, lineHeight: 1},
            callback: v => Number(v).toFixed(2)
          }
        }
      }
    },
    plugins: [decorPlugin]
  };
  new Chart(document.getElementById(p.id), cfg);
});
</script>
</body></html>
